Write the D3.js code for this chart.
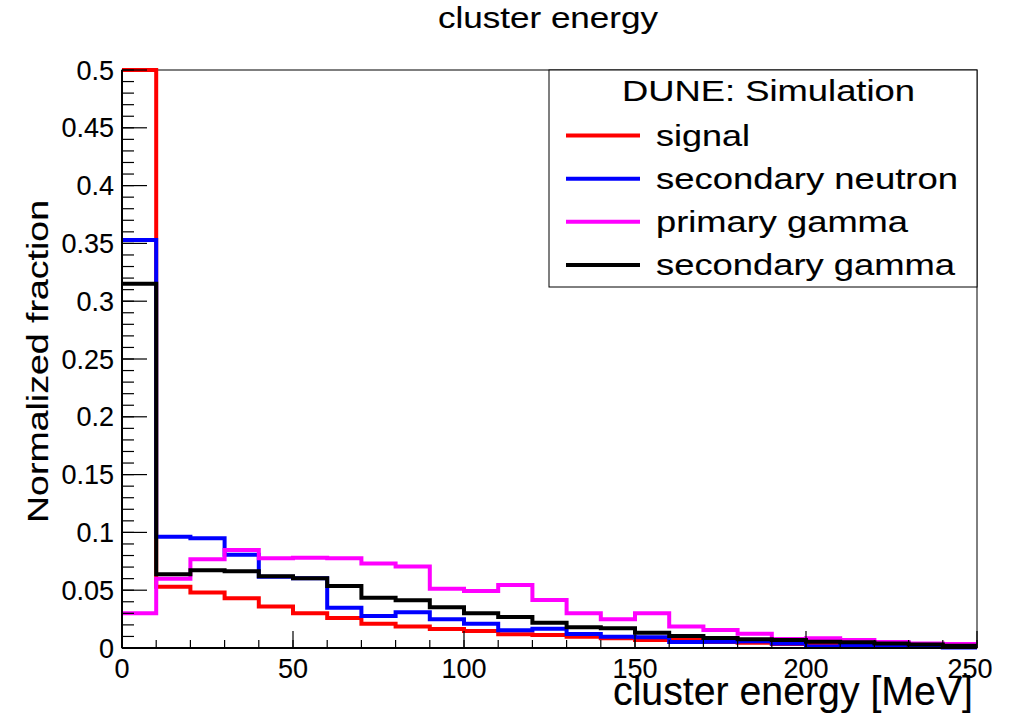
<!DOCTYPE html>
<html>
<head>
<meta charset="utf-8">
<script src="https://cdn.jsdelivr.net/npm/d3@7"></script>
<style>
  html, body { margin: 0; padding: 0; background: #fff; }
  svg { display: block; font-family: "Liberation Sans", Arial, Helvetica, sans-serif; }
  svg text { fill: #000; stroke: #000; stroke-width: 0.12px; }
</style>
</head>
<body>
<svg id="chart" width="1014" height="719"></svg>
<script>
// Bin lower edges in MeV (10 MeV bins from 0 to 250)
const binEdges = [0, 10, 20, 30, 40, 50, 60, 70, 80, 90, 100, 110, 120, 130, 140, 150, 160, 170, 180, 190, 200, 210, 220, 230, 240, 250];

// Normalized fraction per bin for each sample
const signal = [0.5, 0.053, 0.048, 0.043, 0.036, 0.030, 0.026, 0.021, 0.0185, 0.0164, 0.0147, 0.0118, 0.0112, 0.0098, 0.0084, 0.0069, 0.008, 0.0052, 0.0046, 0.0035, 0.003, 0.0025, 0.002, 0.0015, 0.001];
const secondaryNeutron = [0.353, 0.0963, 0.095, 0.0807, 0.0617, 0.0603, 0.0349, 0.0277, 0.0309, 0.0248, 0.021, 0.0153, 0.0167, 0.0121, 0.0098, 0.0092, 0.0052, 0.0055, 0.0058, 0.004, 0.0012, 0.002, 0.0008, 0.0008, 0.0005];
const primaryGamma = [0.030, 0.060, 0.0767, 0.0848, 0.0776, 0.078, 0.0776, 0.073, 0.0704, 0.0513, 0.0493, 0.0545, 0.0415, 0.030, 0.0248, 0.030, 0.0185, 0.0156, 0.0124, 0.0078, 0.0084, 0.0069, 0.0052, 0.004, 0.0035];
const secondaryGamma = [0.315, 0.0637, 0.0672, 0.0663, 0.062, 0.0603, 0.0536, 0.0435, 0.0412, 0.0352, 0.030, 0.0268, 0.0219, 0.0179, 0.017, 0.0133, 0.0104, 0.0087, 0.0075, 0.0069, 0.0055, 0.005, 0.004, 0.003, 0.002];

const seriesNames = ["signal", "secondary neutron", "primary gamma", "secondary gamma"];
const seriesColors = ["#ff0000", "#0000ff", "#ff00ff", "#000000"];
const seriesValues = [signal, secondaryNeutron, primaryGamma, secondaryGamma];

const xMajorTicks = [0, 50, 100, 150, 200, 250];
const yMajorTicks = [0, 0.05, 0.1, 0.15, 0.2, 0.25, 0.3, 0.35, 0.4, 0.45, 0.5];
const yTickLabels = ["0", "0.05", "0.1", "0.15", "0.2", "0.25", "0.3", "0.35", "0.4", "0.45", "0.5"];

const titleText = "cluster energy";
const xTitle = "cluster energy [MeV]";
const yTitle = "Normalized fraction";
const legendHeader = "DUNE: Simulation";

// Frame geometry
const frame = { left: 122, right: 977, top: 70, bottom: 648 };

const svg = d3.select("#chart");

const x = d3.scaleLinear().domain([0, 250]).range([frame.left, frame.right]);
const y = d3.scaleLinear().domain([0, 0.5]).range([frame.bottom, frame.top]);

// Frame box
svg.append("rect")
  .attr("x", frame.left).attr("y", frame.top)
  .attr("width", frame.right - frame.left).attr("height", frame.bottom - frame.top)
  .attr("fill", "none").attr("stroke", "#000").attr("stroke-width", 1);

// Histograms as step lines, drawn in legend order
const stepLine = d3.line().x(d => x(d[0])).y(d => y(d[1]));
seriesValues.forEach((vals, i) => {
  const pts = [];
  vals.forEach((v, b) => {
    pts.push([binEdges[b], v]);
    pts.push([binEdges[b + 1], v]);
  });
  svg.append("path")
    .attr("d", stepLine(pts))
    .attr("fill", "none")
    .attr("stroke", seriesColors[i])
    .attr("stroke-width", 4)
    .attr("stroke-linejoin", "miter")
    .attr("stroke-linecap", "butt");
});

// Y axis: major ticks every 0.05, minor every 0.01
const yMinor = d3.range(0, 0.5001, 0.01);
svg.append("g").selectAll("line").data(yMinor).join("line")
  .attr("x1", frame.left).attr("x2", frame.left + 12)
  .attr("y1", d => y(d)).attr("y2", d => y(d))
  .attr("stroke", "#000").attr("stroke-width", 1.2);
svg.append("g").selectAll("line").data(yMajorTicks).join("line")
  .attr("x1", frame.left).attr("x2", frame.left + 25)
  .attr("y1", d => y(d)).attr("y2", d => y(d))
  .attr("stroke", "#000").attr("stroke-width", 1.2);
svg.append("g").selectAll("text").data(yMajorTicks).join("text")
  .attr("x", 114).attr("y", d => y(d) + 9.5)
  .attr("text-anchor", "end")
  .attr("font-size", 27)
  .text((d, i) => yTickLabels[i]);

// X axis: major ticks every 50, minor every 10
const xMinor = d3.range(0, 250.001, 10);
svg.append("g").selectAll("line").data(xMinor).join("line")
  .attr("x1", d => x(d)).attr("x2", d => x(d))
  .attr("y1", frame.bottom).attr("y2", frame.bottom - 8)
  .attr("stroke", "#000").attr("stroke-width", 1.2);
svg.append("g").selectAll("line").data(xMajorTicks).join("line")
  .attr("x1", d => x(d)).attr("x2", d => x(d))
  .attr("y1", frame.bottom).attr("y2", frame.bottom - 17)
  .attr("stroke", "#000").attr("stroke-width", 1.2);
svg.append("g").selectAll("text").data(xMajorTicks).join("text")
  .attr("x", (d, i) => x(d) - (i === xMajorTicks.length - 1 ? 7 : 0))
  .attr("y", 678)
  .attr("text-anchor", "middle")
  .attr("font-size", 27)
  .text(d => d);

// Heavier left and bottom axis lines
svg.append("line")
  .attr("x1", frame.left).attr("x2", frame.left)
  .attr("y1", frame.top).attr("y2", frame.bottom)
  .attr("stroke", "#000").attr("stroke-width", 2);
svg.append("line")
  .attr("x1", frame.left).attr("x2", frame.right)
  .attr("y1", frame.bottom).attr("y2", frame.bottom)
  .attr("stroke", "#000").attr("stroke-width", 2);

// Titles
svg.append("text")
  .attr("x", 548).attr("y", 28)
  .attr("text-anchor", "middle")
  .attr("font-size", 29)
  .attr("textLength", 220).attr("lengthAdjust", "spacingAndGlyphs")
  .text(titleText);

svg.append("text")
  .attr("x", 973).attr("y", 705)
  .attr("text-anchor", "end")
  .attr("font-size", 40)
  .attr("textLength", 360).attr("lengthAdjust", "spacingAndGlyphs")
  .text(xTitle);

svg.append("text")
  .attr("transform", "translate(48,523) rotate(-90)")
  .attr("x", 0).attr("y", 0)
  .attr("text-anchor", "start")
  .attr("font-size", 30)
  .attr("textLength", 323).attr("lengthAdjust", "spacingAndGlyphs")
  .text(yTitle);

// Legend
const legend = svg.append("g");
legend.append("rect")
  .attr("x", 549).attr("y", 70)
  .attr("width", 977 - 549).attr("height", 287 - 70)
  .attr("fill", "#fff").attr("stroke", "#000").attr("stroke-width", 1);
legend.append("text")
  .attr("x", 768.5).attr("y", 101)
  .attr("text-anchor", "middle")
  .attr("font-size", 30)
  .attr("textLength", 293).attr("lengthAdjust", "spacingAndGlyphs")
  .text(legendHeader);

const legendRowY = [135.5, 178.7, 221.7, 265];
const legendTextWidths = [94, 302, 252, 299];
seriesNames.forEach((name, i) => {
  legend.append("line")
    .attr("x1", 566).attr("x2", 640)
    .attr("y1", legendRowY[i]).attr("y2", legendRowY[i])
    .attr("stroke", seriesColors[i]).attr("stroke-width", 4);
  legend.append("text")
    .attr("x", 656).attr("y", legendRowY[i] + 10)
    .attr("font-size", 30)
    .attr("textLength", legendTextWidths[i]).attr("lengthAdjust", "spacingAndGlyphs")
    .text(name);
});
</script>
</body>
</html>
